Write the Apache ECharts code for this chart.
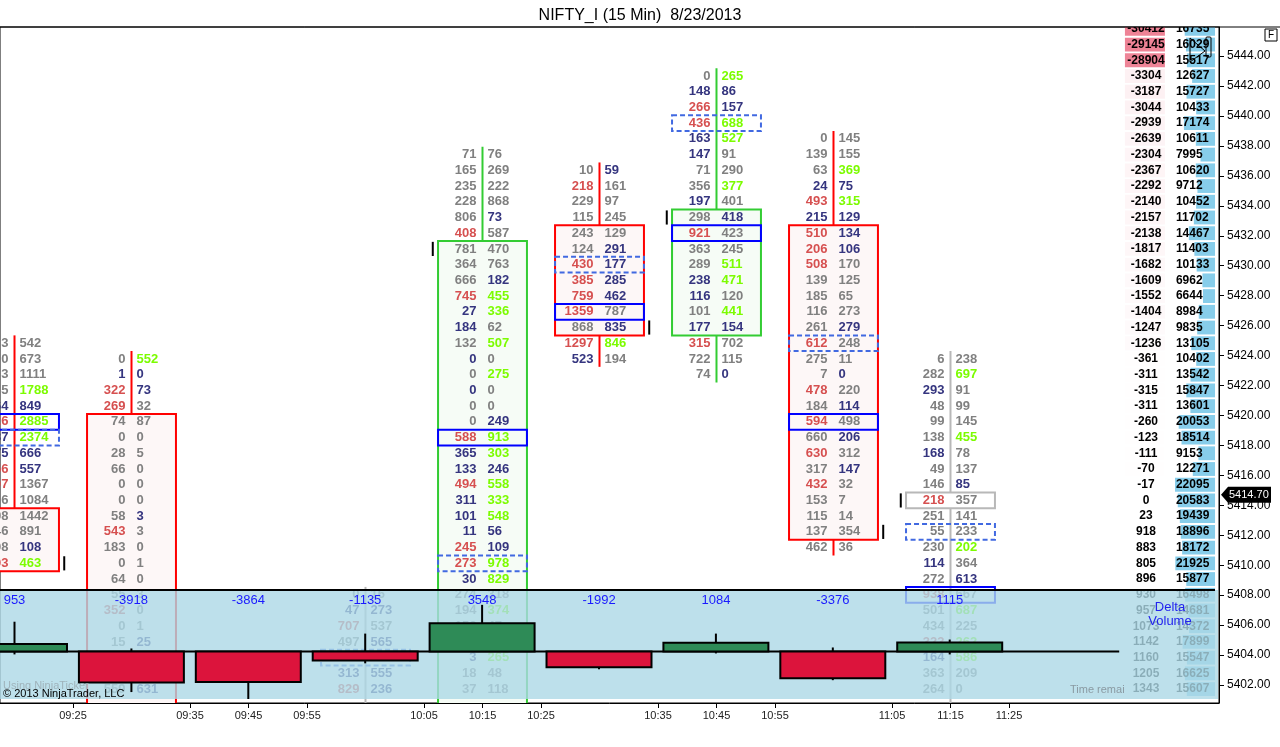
<!DOCTYPE html>
<html>
<head>
<meta charset="utf-8">
<script src="https://cdn.jsdelivr.net/npm/echarts@6/dist/echarts.min.js"></script>
<style>
html,body{margin:0;padding:0;background:#fff}
#main{width:1280px;height:747px}
</style>
</head>
<body>
<div id="main"></div>
<script type="text/javascript">
// time axis: x is measured in bars (bar 0 = first partly visible bar)
var timeTicks  = [0.5, 1.5, 2, 2.5, 3.5, 4, 4.5, 5.5, 6, 6.5, 7.5, 8, 8.5];
var timeLabels = ['09:25','09:35','09:45','09:55','10:05','10:15','10:25','10:35','10:45','10:55','11:05','11:15','11:25'];
var priceTicks = [5402,5404,5406,5408,5410,5412,5414,5416,5418,5420,5422,5424,5426,5428,5430,5432,5434,5436,5438,5440,5442,5444];
var lastPrice = 5414.70;

// footprint per bar: first row index (row 0 = top price row), bid / ask per row
// tone per cell: g grey, r sell imbalance, n dominant, l buy imbalance
var fpFirst = [17, 18, 0, 33, 5, 6, 0, 4, 18];
var fpBid = [
  [433,520,303,245,264,226,437,375,256,307,326,298,246,308,203],
  [0,1,322,269,74,0,28,66,0,0,58,543,183,0,64,55,352,0,15,210,96,559],
  [],
  [0,47,707,497,310,313,829],
  [71,165,235,228,806,408,781,364,666,745,27,184,132,0,0,0,0,0,588,365,133,494,311,101,11,245,273,30,274,194,156,88,3,18,37],
  [10,218,229,115,243,124,430,385,759,1359,868,1297,523],
  [0,148,266,436,163,147,71,356,197,298,921,363,289,238,116,101,177,315,722,74],
  [0,139,63,24,493,215,510,206,508,139,185,116,261,612,275,7,478,184,594,660,630,317,432,153,115,137,462],
  [6,282,293,48,99,138,168,49,146,218,251,55,230,114,272,938,501,434,323,164,363,264]
];
var fpAsk = [
  [542,673,1111,1788,849,2885,2374,666,557,1367,1084,1442,891,108,463],
  [552,0,73,32,87,0,5,0,0,0,3,3,0,1,0,3,0,1,25,140,88,631],
  [],
  [16,273,537,565,420,555,236],
  [76,269,222,868,73,587,470,763,182,455,336,62,507,0,275,0,0,249,913,303,246,558,333,548,56,109,978,829,318,374,47,112,265,48,118],
  [59,161,97,245,129,291,177,285,462,787,835,846,194],
  [265,86,157,688,527,91,290,377,401,418,423,245,511,471,120,441,154,702,115,0],
  [145,155,369,75,315,129,134,106,170,125,65,273,279,248,11,0,220,114,498,206,312,147,32,7,14,354,36],
  [238,697,91,99,145,455,78,137,85,357,141,233,202,364,613,667,687,225,262,586,209,0]
];
var fpBidTone = ['ggggnrnnrrggggr', 'gnrrgggggggrggggrggggg', '', 'gnrggnr',
  'gggggrgggrnngngnggrnnrnnnrrnggggngg', 'grggggrrrrgrn', 'gnrrnnggngrggnngnrgg',
  'gggnrnrrrggggrggrgrgrgrgggg', 'ggngggnggrgggngrggrngg'];
var fpAskTone = ['ggglnllnnggggnl', 'lnngggggggngggggggnggn', '', 'gngngnn',
  'ggggngggnllglglggnllnlllnnllglgglgg', 'nggggnnnngnlg', 'lnnllgglgnggllglnggn',
  'gglnlnnnggggnggngngngnggggg', 'glggglggnggglgnglgllgg'];

// bar range in rows (null = not on screen)
var barHigh  = [17, 18, null, 33, 5, 6, 0, 4, 18];
var barLow   = [31, 46, null, 46, 46, 18, 19, 30, 46];
var barOpen  = [28, 22, null, 44, 46, 10, 16, 10, 27];
var barClose = [31, 46, null, 44, 11, 16, 9, 29, 27];
var pocRow   = [22, null, null, null, 23, 15, 10, 22, 33];
var dashRow  = [23, null, null, 37, 31, 12, 3, 17, 29];

// volume profile on the right, rows -3 .. 39
var profFirst = -3;
var profDelta = [-30412,-29145,-28904,-3304,-3187,-3044,-2939,-2639,-2304,-2367,-2292,-2140,-2157,-2138,-1817,-1682,-1609,-1552,-1404,-1247,-1236,-361,-311,-315,-311,-260,-123,-111,-70,-17,0,23,918,883,805,896,930,957,1073,1142,1160,1205,1343];
var profVol = [16735,16029,15517,12627,15727,10433,17174,10611,7995,10620,9712,10452,11702,14467,11403,10133,6962,6644,8984,9835,13105,10402,13542,15847,13601,20053,18514,9153,12271,22095,20583,19439,18896,18172,21925,15877,16498,14681,14372,17899,15547,16625,15607];

// delta volume candles (open at 0)
var deltaClose = [953, -3918, -3864, -1135, 3548, -1992, 1084, -3376, 1115];
var deltaHigh  = [3750, 375, 0, 2250, 5875, 0, 2250, 500, 1500];
var deltaLow   = [-375, -5125, -6000, -1500, 0, -2250, -250, -3625, -375];

var toneColor = {g:'#808080', r:'#d65050', n:'#35357f', l:'#7cfc00'};
var cellFont = 'bold 13px "Liberation Sans", Arial, sans-serif';
var profFont = 'bold 12px "Liberation Sans", Arial, sans-serif';
var bodyHalf = 0.38;

var cells = [];
for (var b = 0; b < fpBid.length; b++) {
  for (var k = 0; k < fpBid[b].length; k++) {
    cells.push({bar: b, row: fpFirst[b] + k, bid: fpBid[b][k], ask: fpAsk[b][k],
      tl: fpBidTone[b].charAt(k), tr: fpAskTone[b].charAt(k)});
  }
}
var bodyData = [], boxData = [];
for (var b = 0; b < barHigh.length; b++) {
  if (barHigh[b] !== null) bodyData.push([b, barHigh[b], barLow[b], barOpen[b], barClose[b]]);
  if (pocRow[b] !== null) boxData.push([b, pocRow[b], 0]);
  if (dashRow[b] !== null) boxData.push([b, dashRow[b], 1]);
}
var profData = profDelta.map(function (d, i) { return [9.7, profFirst + i, d, profVol[i]]; });
var maxVol = Math.max.apply(null, profVol);
var maxNeg = 29145;
var deltaData = deltaClose.map(function (d, i) { return [i, d, deltaHigh[i], deltaLow[i]]; });

function txt(s, x, y, font, fill, align) {
  return {type: 'text', style: {text: s, x: x, y: y, font: font, fill: fill,
    align: align, textAlign: align, verticalAlign: 'middle', textVerticalAlign: 'middle'}};
}

var myChart = echarts.init(document.getElementById('main'));
var option = {
  animation: false,
  backgroundColor: '#fff',
  title: {
    text: 'NIFTY_I (15 Min)  8/23/2013',
    left: 'center', top: 3,
    textStyle: {fontSize: 16, fontWeight: 'normal', color: '#000', fontFamily: 'Liberation Sans'}
  },
  grid: [
    {left: 0, right: 61, top: 27, bottom: 44, show: true, borderColor: '#000', borderWidth: 1, backgroundColor: '#fff'},
    {left: 0, right: 62, top: 590, bottom: 48, show: false}
  ],
  xAxis: [
    {
      type: 'value', gridIndex: 0, min: -0.124, max: 10.295,
      splitLine: {show: false},
      axisLine: {show: true, onZero: false, lineStyle: {color: '#000', width: 1}},
      axisTick: {show: true, customValues: timeTicks, length: 5, lineStyle: {color: '#000'}},
      axisLabel: {
        customValues: timeTicks, margin: 7, color: '#222', fontSize: 11, fontFamily: 'Liberation Sans',
        formatter: function (v) {
          var best = 0;
          for (var i = 0; i < timeTicks.length; i++) if (Math.abs(timeTicks[i] - v) < Math.abs(timeTicks[best] - v)) best = i;
          return timeLabels[best];
        }
      }
    },
    {type: 'value', gridIndex: 1, min: -0.124, max: 10.295, show: false, axisLine: {onZero: false}}
  ],
  yAxis: [
    {
      type: 'value', gridIndex: 0, position: 'right', min: 5400.80, max: 5445.94,
      splitLine: {show: false},
      axisLine: {show: true, onZero: false, lineStyle: {color: '#000', width: 1}},
      axisTick: {show: true, customValues: priceTicks, length: 5, lineStyle: {color: '#000'}},
      axisLabel: {customValues: priceTicks, margin: 8, color: '#000', fontSize: 12, fontFamily: 'Liberation Sans',
        formatter: function (v) { return v.toFixed(2); }}
    },
    {type: 'value', gridIndex: 0, min: -3.117, max: 39.885, inverse: true, show: false, axisLine: {onZero: false}},
    {type: 'value', gridIndex: 1, min: -6000, max: 7750, show: false, axisLine: {onZero: false}}
  ],
  graphic: [
    {type: 'line', z: 100, shape: {x1: 0, y1: 27, x2: 1280, y2: 27}, style: {stroke: '#000', lineWidth: 1}},
    {type: 'rect', z: 100, shape: {x: 1265, y: 29, width: 12, height: 12}, style: {fill: '#fff', stroke: '#000', lineWidth: 1}},
    {type: 'text', z: 101, x: 1268, y: 30, style: {text: 'F', font: '10px "Liberation Sans"', fill: '#000'}},
    {type: 'polygon', z: 100, shape: {points: [[1190, 38], [1205, 51], [1190, 62]]}, style: {fill: 'none', stroke: '#000', lineWidth: 1}},
    {type: 'rect', z: 100, shape: {x: 1206, y: 37, width: 5, height: 20, r: 1}, style: {fill: 'none', stroke: '#000', lineWidth: 1}},
    {type: 'text', z: 100, x: 3, y: 680, style: {text: 'Using NinjaTicker', font: '11px "Liberation Sans"', fill: '#9fb3bb'}},
    {type: 'text', z: 100, x: 3, y: 688, style: {text: '\u00a9 2013 NinjaTrader, LLC', font: '11px "Liberation Sans"', fill: '#000'}},
    {type: 'text', z: 100, x: 1070, y: 684, style: {text: 'Time remai', font: '11px "Liberation Sans"', fill: '#8a9aa2'}}
  ],
  series: [
    {
      // bar wick, body and close marker
      type: 'custom', name: 'bars', xAxisIndex: 0, yAxisIndex: 1, clip: true, z: 2,
      data: bodyData,
      renderItem: function (params, api) {
        var b = api.value(0), hi = api.value(1), lo = api.value(2), op = api.value(3), cl = api.value(4);
        var up = cl < op, down = cl > op;
        var col = up ? '#33cc33' : (down ? '#ff0000' : '#b8b8b8');
        var fill = up ? '#f6fcf6' : (down ? '#fdf7f7' : '#ffffff');
        var top = Math.min(op, cl), bot = Math.max(op, cl);
        var a = api.coord([b, hi - 0.5]), z = api.coord([b, lo + 0.5]);
        var r0 = api.coord([b - bodyHalf, top - 0.5]), r1 = api.coord([b + bodyHalf, bot + 0.5]);
        var m = api.coord([b + (down ? 0.425 : -0.425), cl - 0.45]), m2 = api.coord([b, cl + 0.45]);
        return {type: 'group', children: [
          {type: 'line', shape: {x1: a[0], y1: a[1], x2: z[0], y2: z[1]}, style: {stroke: col, lineWidth: 2}},
          {type: 'rect', shape: {x: r0[0], y: r0[1], width: r1[0] - r0[0], height: r1[1] - r0[1]},
            style: {fill: fill, stroke: col, lineWidth: 2}},
          {type: 'line', shape: {x1: m[0], y1: m[1], x2: m[0], y2: m2[1]}, style: {stroke: '#000', lineWidth: 2}}
        ]};
      }
    },
    {
      // bid x ask numbers
      type: 'custom', name: 'footprint', xAxisIndex: 0, yAxisIndex: 1, clip: true, z: 3,
      data: cells.map(function (c) { return [c.bar, c.row]; }),
      renderItem: function (params, api) {
        var c = cells[params.dataIndex];
        var p = api.coord([api.value(0), api.value(1)]);
        return {type: 'group', children: [
          txt(String(c.bid), p[0] - 6, p[1], cellFont, toneColor[c.tl], 'right'),
          txt(String(c.ask), p[0] + 5, p[1], cellFont, toneColor[c.tr], 'left')
        ]};
      }
    },
    {
      // max volume (solid) and max delta (dashed) rows
      type: 'custom', name: 'boxes', xAxisIndex: 0, yAxisIndex: 1, clip: true, z: 4,
      data: boxData,
      renderItem: function (params, api) {
        var b = api.value(0), r = api.value(1), dashed = api.value(2) === 1;
        var p0 = api.coord([b - bodyHalf, r - 0.5]), p1 = api.coord([b + bodyHalf, r + 0.5]);
        return {type: 'rect', shape: {x: p0[0], y: p0[1], width: p1[0] - p0[0], height: p1[1] - p0[1]},
          style: {fill: 'none', stroke: dashed ? '#4169e1' : '#0000ff', lineWidth: 2, lineDash: dashed ? [5, 3] : null}};
      }
    },
    {
      // session profile: delta and volume per row
      type: 'custom', name: 'profile', xAxisIndex: 0, yAxisIndex: 1, clip: true, z: 3,
      data: profData,
      renderItem: function (params, api) {
        var r = api.value(1), d = api.value(2), v = api.value(3);
        var c0 = api.coord([9.491, r - 0.44]), c1 = api.coord([9.833, r + 0.44]);
        var dc = api.coord([9.671, r]);
        var vr = api.coord([10.261, r]);
        var vl = api.coord([10.261 - 0.342 * v / maxVol, r]);
        var vt = api.coord([9.927, r]);
        var alpha = d < 0 ? Math.min(1, -d / maxNeg) * 0.75 : 0;
        return {type: 'group', children: [
          {type: 'rect', shape: {x: c0[0], y: c0[1], width: c1[0] - c0[0], height: c1[1] - c0[1]},
            style: {fill: 'rgba(232,90,115,' + alpha.toFixed(3) + ')'}},
          {type: 'rect', shape: {x: vl[0], y: c0[1], width: vr[0] - vl[0], height: c1[1] - c0[1]},
            style: {fill: '#87cdea'}},
          txt(String(d), dc[0], dc[1], profFont, '#000', 'center'),
          txt(String(v), vt[0], vt[1], profFont, '#000', 'left')
        ]};
      }
    },
    {
      // last price tag
      type: 'custom', name: 'last', xAxisIndex: 0, yAxisIndex: 0, clip: false, z: 20,
      data: [[10.295, lastPrice]],
      renderItem: function (params, api) {
        var p = api.coord([api.value(0), api.value(1)]);
        var x = p[0], y = p[1];
        return {type: 'group', children: [
          {type: 'polygon', shape: {points: [[x + 2, y], [x + 9, y - 8], [x + 52, y - 8], [x + 52, y + 8], [x + 9, y + 8]]},
            style: {fill: '#000'}},
          txt(lastPrice.toFixed(2), x + 10, y, '11px "Liberation Sans", Arial', '#fff', 'left')
        ]};
      }
    },
    {
      // delta panel background, frame and zero line
      type: 'custom', name: 'panel', xAxisIndex: 1, yAxisIndex: 2, clip: false, z: 10,
      data: [[0, 0]],
      renderItem: function (params, api) {
        var cs = params.coordSys;
        var zero = api.coord([0, 0])[1];
        var zx = api.coord([9.45, 0])[0];
        return {type: 'group', children: [
          {type: 'rect', shape: {x: cs.x, y: cs.y, width: cs.width, height: cs.height},
            style: {fill: 'rgba(173,216,230,0.8)'}},
          {type: 'line', shape: {x1: cs.x, y1: cs.y, x2: cs.x + cs.width - 3, y2: cs.y}, style: {stroke: '#000', lineWidth: 2}},
          {type: 'line', shape: {x1: cs.x, y1: zero, x2: zx, y2: zero}, style: {stroke: '#000', lineWidth: 2}},
          txt('Delta', 1170, 607, '13px "Liberation Sans", Arial', '#2222ee', 'center'),
          txt('Volume', 1170, 621, '13px "Liberation Sans", Arial', '#2222ee', 'center')
        ]};
      }
    },
    {
      // delta volume candles
      type: 'custom', name: 'delta', xAxisIndex: 1, yAxisIndex: 2, clip: false, z: 11,
      data: deltaData,
      renderItem: function (params, api) {
        var b = api.value(0), d = api.value(1), hi = api.value(2), lo = api.value(3);
        var h = api.coord([b, hi]), l = api.coord([b, lo]);
        var p0 = api.coord([b - 0.449, Math.max(d, 0)]), p1 = api.coord([b + 0.449, Math.min(d, 0)]);
        var top = params.coordSys.y;
        return {type: 'group', children: [
          {type: 'line', shape: {x1: h[0], y1: h[1], x2: l[0], y2: l[1]}, style: {stroke: '#000', lineWidth: 2}},
          {type: 'rect', shape: {x: p0[0], y: p0[1], width: p1[0] - p0[0], height: p1[1] - p0[1]},
            style: {fill: d >= 0 ? '#2e8b57' : '#dc143c', stroke: '#000', lineWidth: 2}},
          txt(String(d), h[0], top + 10, '13px "Liberation Sans", Arial', '#1a1aff', 'center')
        ]};
      }
    }
  ]
};
myChart.setOption(option);
</script>
</body>
</html>
